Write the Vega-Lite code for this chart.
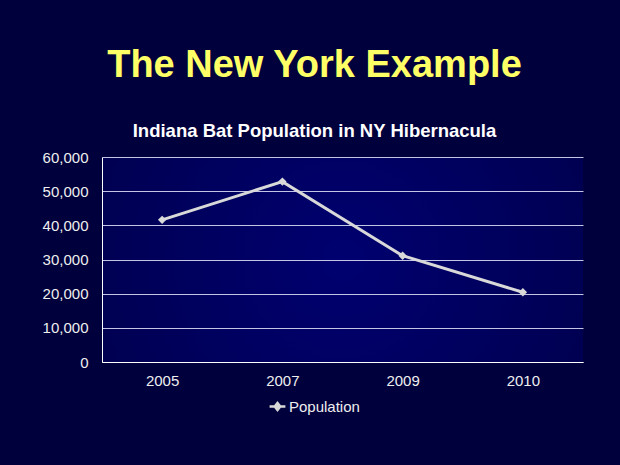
{
  "$schema": "https://vega.github.io/schema/vega-lite/v6.json",
  "autosize": "none",
  "width": 481,
  "height": 205,
  "padding": {"left": 102, "top": 157, "right": 37, "bottom": 103},
  "background": "#00003c",
  "title": {
    "text": "The New York Example",
    "subtitle": "Indiana Bat Population in NY Hibernacula",
    "anchor": "middle",
    "dx": -28,
    "offset": 10,
    "font": "Liberation Sans",
    "fontSize": 38,
    "fontWeight": "bold",
    "color": "#ffff66",
    "subtitleFont": "Liberation Sans",
    "subtitleFontSize": 18.5,
    "subtitleFontWeight": "bold",
    "subtitleColor": "#ffffff",
    "subtitlePadding": 37
  },
  "data": {
    "values": [
      {"year": "2005", "population": 41600, "series": "Population"},
      {"year": "2007", "population": 52800, "series": "Population"},
      {"year": "2009", "population": 31100, "series": "Population"},
      {"year": "2010", "population": 20400, "series": "Population"}
    ]
  },
  "mark": {
    "type": "line",
    "strokeWidth": 3,
    "point": {"shape": "diamond", "size": 70, "filled": true, "color": "#d0d0d0", "opacity": 1}
  },
  "encoding": {
    "x": {
      "field": "year",
      "type": "ordinal",
      "scale": {"type": "point", "padding": 0.5},
      "axis": {
        "title": null,
        "labelAngle": 0,
        "ticks": false,
        "domainColor": "#ffffff",
        "domainWidth": 1,
        "labelPadding": 11,
        "labelFont": "Liberation Sans",
        "labelFontSize": 15,
        "labelColor": "#eeeeee",
        "grid": false
      }
    },
    "y": {
      "field": "population",
      "type": "quantitative",
      "scale": {"domain": [0, 60000], "nice": false},
      "axis": {
        "title": null,
        "values": [0, 10000, 20000, 30000, 40000, 50000, 60000],
        "format": ",.0f",
        "ticks": false,
        "domainColor": "#ffffff",
        "domainWidth": 1,
        "labelPadding": 14,
        "labelFont": "Liberation Sans",
        "labelFontSize": 15,
        "labelColor": "#eeeeee",
        "grid": true,
        "gridColor": "#c4c4e4",
        "gridWidth": 1
      }
    },
    "color": {
      "field": "series",
      "type": "nominal",
      "scale": {"range": ["#d9d9d9"]},
      "legend": {
        "title": null,
        "orient": "none",
        "legendX": 166,
        "legendY": 240,
        "symbolType": "M-1,0L1,0M0,-0.45L0.35,0L0,0.45L-0.35,0Z",
        "symbolSize": 250,
        "symbolStrokeWidth": 2.5,
        "symbolFillColor": "#d9d9d9",
        "symbolStrokeColor": "#d9d9d9",
        "symbolOffset": 0,
        "labelFont": "Liberation Sans",
        "labelFontSize": 15,
        "labelColor": "#eeeeee",
        "labelOffset": 2
      }
    }
  },
  "config": {
    "view": {
      "stroke": null,
      "fill": {
        "gradient": "radial",
        "x1": 0.5, "y1": 0.5, "r1": 0,
        "x2": 0.5, "y2": 0.5, "r2": 0.75,
        "stops": [
          {"offset": 0, "color": "#000070"},
          {"offset": 1, "color": "#000046"}
        ]
      }
    }
  }
}
